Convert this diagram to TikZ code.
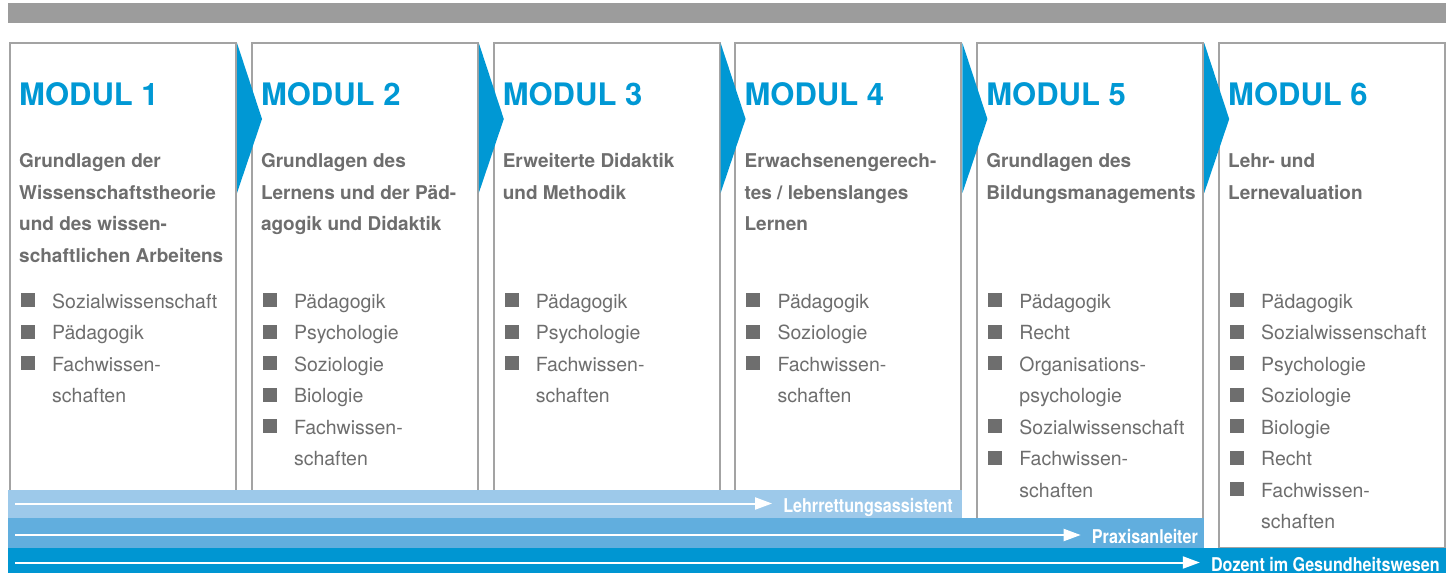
\documentclass[tikz,border=0pt]{standalone}
\usepackage{fontspec}
\setmainfont{TeX Gyre Heros}
\newfontfamily\barfont{TeX Gyre Heros}[FakeStretch=0.85]
\usepackage{tikz}
\usetikzlibrary{arrows.meta}

\definecolor{modblue}{RGB}{0,152,212}
\definecolor{txtgrey}{RGB}{110,110,110}
\definecolor{boxgrey}{RGB}{163,163,163}
\definecolor{topgrey}{RGB}{156,156,156}
\definecolor{barA}{RGB}{157,201,234}
\definecolor{barB}{RGB}{97,174,222}
\definecolor{barC}{RGB}{0,150,210}

\tikzset{
  modbox/.style={draw=boxgrey, line width=2pt, fill=white, anchor=north west,
    minimum width=226pt, minimum height=505pt, inner sep=0pt, outer sep=0pt},
  modtitle/.style={font=\fontsize{31}{31}\selectfont\bfseries, text=modblue,
    anchor=base west, inner sep=0pt},
  subline/.style={font=\fontsize{19}{19}\selectfont\bfseries, text=txtgrey,
    anchor=base west, inner sep=0pt},
  itemline/.style={font=\fontsize{19.5}{19.5}\selectfont, text=txtgrey,
    anchor=base west, inner sep=0pt},
  bartext/.style={font=\barfont\bfseries\fontsize{19}{19}\selectfont, text=white,
    anchor=base east, inner sep=0pt},
  barline/.style={white, line width=2pt, shorten >=11pt,
    -{Triangle[length=17pt,width=12pt]}}
}

\begin{document}
\begin{tikzpicture}[x=1pt,y=-1pt]

  \useasboundingbox (0,0) rectangle (1453,573);

  % top bar
  \fill[topgrey] (8,3) rectangle (1446,23);

  % module boxes
  \foreach \i in {1,...,6}
  {
    \node[modbox] (m\i) at ({10+241.8*(\i-1)},43) {};
  }

  % blue chevrons between the boxes
  \foreach \i in {1,...,5}
  {
    \fill[modblue] ([xshift=1pt]m\i.north east) -- ([xshift=26pt,yshift=-76pt]m\i.north east)
      -- ([xshift=1pt,yshift=-150pt]m\i.north east) -- cycle;
  }

  % texts: title lines / list (1 = with bullet)
  \foreach \i/\heads/\items in {
    1/{Grundlagen der,Wissenschaftstheorie,und des wissen-,schaftlichen Arbeitens}/{Sozialwissenschaft/1,Pädagogik/1,Fachwissen-/1,schaften/0},
    2/{Grundlagen des,Lernens und der Päd-,agogik und Didaktik}/{Pädagogik/1,Psychologie/1,Soziologie/1,Biologie/1,Fachwissen-/1,schaften/0},
    3/{Erweiterte Didaktik,und Methodik}/{Pädagogik/1,Psychologie/1,Fachwissen-/1,schaften/0},
    4/{Erwachsenengerech-,tes / lebenslanges,Lernen}/{Pädagogik/1,Soziologie/1,Fachwissen-/1,schaften/0},
    5/{Grundlagen des,Bildungsmanagements}/{Pädagogik/1,Recht/1,Organisations-/1,psychologie/0,Sozialwissenschaft/1,Fachwissen-/1,schaften/0},
    6/{Lehr- und,Lernevaluation}/{Pädagogik/1,Sozialwissenschaft/1,Psychologie/1,Soziologie/1,Biologie/1,Recht/1,Fachwissen-/1,schaften/0}}
  {
    \pgfmathsetmacro{\mx}{10+241.8*(\i-1)}
    \node[modtitle] (h\i) at (\mx+9,105) {MODUL \i};
    \foreach \txt [count=\k] in \heads
    {
      \node[subline] (s\i-\k) at (\mx+9,{167.5+31.5*(\k-1)}) {\txt};
    }
    \foreach \txt/\b [count=\k] in \items
    {
      \node[itemline] (l\i-\k) at (\mx+42,{308+31.5*(\k-1)}) {\txt};
      \ifnum\b=1
        \fill[txtgrey] (\mx+11,{293+31.5*(\k-1)}) rectangle ++(14,14);
      \fi
    }
  }

  % bars at the bottom
  \fill[barA] (8,490) rectangle (962,518);
  \fill[barB] (8,518) rectangle (1204,548);
  \fill[barC] (8,548) rectangle (1446,573);

  \node[bartext] (lra) at (953,512) {Lehrrettungsassistent};
  \node[bartext] (pxa) at (1198,543) {Praxisanleiter};
  \node[bartext] (doz) at (1440,571) {Dozent im Gesundheitswesen};

  \coordinate (a1) at (15,503.5);
  \coordinate (a2) at (15,535);
  \coordinate (a3) at (15,562.5);
  \draw[barline] (a1) -- (a1 -| lra.west);
  \draw[barline] (a2) -- (a2 -| pxa.west);
  \draw[barline] (a3) -- (a3 -| doz.west);

\end{tikzpicture}
\end{document}
